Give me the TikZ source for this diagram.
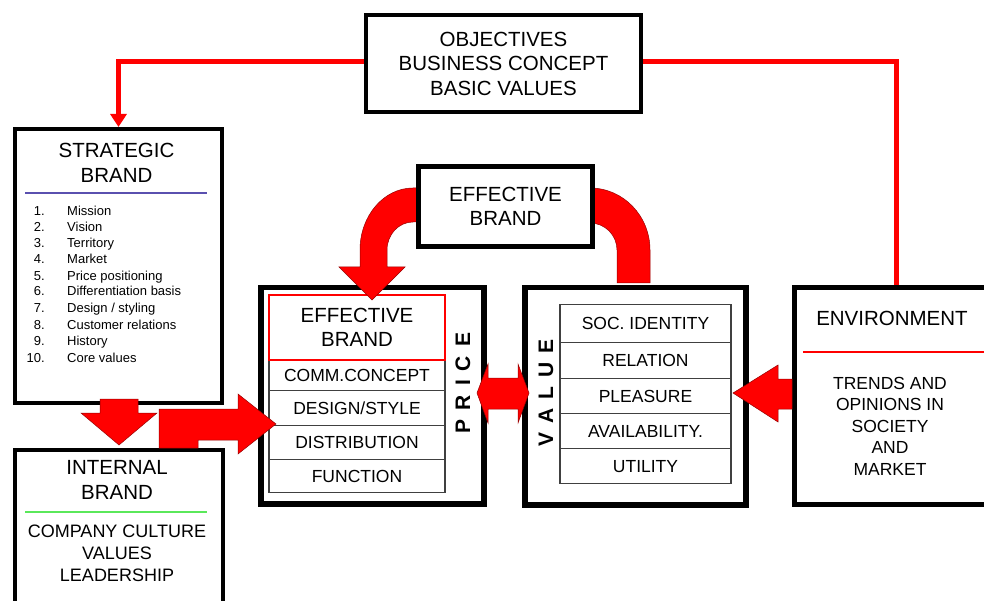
\documentclass[tikz,border=0pt]{standalone}
\usepackage{fontspec}
\setmainfont{Liberation Sans}
\usetikzlibrary{arrows.meta}
\begin{document}
\begin{tikzpicture}[x=1pt,y=-1pt,
  box/.style={draw=black, line width=4pt, fill=white, inner sep=0pt, anchor=north west},
  ttl/.style={font=\fontsize{20.5}{24.5}\selectfont, align=center, inner sep=0pt},
  rowtxt/.style={font=\fontsize{17.5}{21}\selectfont},
  cell/.style={draw=black!75, line width=1.2pt, fill=white, inner sep=0pt, anchor=north, rowtxt},
  listtxt/.style={font=\fontsize{13}{15}\selectfont, inner sep=0pt},
  vert/.style={rotate=90, font=\bfseries\fontsize{21}{21}\selectfont, inner sep=0pt},
  fat/.style={fill=red, draw={rgb,255:red,150;green,0;blue,0}, line width=0.5pt},
  redline/.style={draw=red, line width=5pt},
]
\useasboundingbox (0,0) rectangle (984,601);

% --- boxes ---
\node[box, minimum width=207, minimum height=274] (strat) at (13,127) {};
\node[box, minimum width=208, minimum height=170] (intl) at (13,448) {};
\node[box, line width=5.5pt, minimum width=223, minimum height=216] (price) at (258,285) {};
\node[box, line width=5.5pt, minimum width=221, minimum height=217] (value) at (522,285) {};
\node[box, line width=5pt, minimum width=203, minimum height=217] (env) at (792,285) {};

% --- top feedback lines ---
\coordinate (objW) at (364,62);
\coordinate (objE) at (639,62);
\draw[redline, -{Triangle[width=16pt,length=13pt]}] (objW) -| (strat.north);
\draw[redline] (objE) -| (env.north);
\node[box, minimum width=275, minimum height=97, ttl] (obj) at (364,13) {OBJECTIVES\\BUSINESS CONCEPT\\BASIC VALUES};

% --- strategic brand ---
\node[ttl] (stratt) at (116.5,163) {STRATEGIC\\BRAND};
\draw[draw={rgb,255:red,90;green,80;blue,175}, line width=2pt] (25,193) -- (207,193);
\foreach \nn/\tt/\yy [count=\i] in {{1.}/{Mission}/211, {2.}/{Vision}/227, {3.}/{Territory}/243, {4.}/{Market}/259, {5.}/{Price positioning}/276, {6.}/{Differentiation basis}/291, {7.}/{Design / styling}/308, {8.}/{Customer relations}/325, {9.}/{History}/341, {10.}/{Core values}/358} {
  \node[listtxt, anchor=base east] (ln\i) at (45,\yy+4.7) {\nn};
  \node[listtxt, anchor=base west] (lt\i) at (67,\yy+4.7) {\tt};
}

% --- internal brand ---
\node[ttl] (intlt) at (117,480) {INTERNAL\\BRAND};
\draw[draw={rgb,255:red,90;green,232;blue,90}, line width=2pt] (25,512) -- (207,512);
\node[font=\fontsize{18}{22}\selectfont, align=center, inner sep=0pt] (intlb) at (117,553) {COMPANY CULTURE\\VALUES\\LEADERSHIP};

% --- price table ---
\node[cell, minimum width=176, minimum height=31] (pc1) at (357,359) {COMM.CONCEPT};
\node[cell, minimum width=176, minimum height=35] (pc2) at (357,390) {DESIGN/STYLE};
\node[cell, minimum width=176, minimum height=34] (pc3) at (357,425) {DISTRIBUTION};
\node[cell, minimum width=176, minimum height=33] (pc4) at (357,459) {FUNCTION};
\node[draw=red, line width=2pt, fill=white, minimum width=176, minimum height=65, anchor=north, ttl] (peff) at (357,294) {EFFECTIVE\\BRAND};
\node[vert] (pricet) at (463,383) {P\kern9pt R\kern9pt I\kern9pt C\kern9pt E};

% --- value table ---
\node[cell, minimum width=171, minimum height=38] (vc1) at (645.5,304) {SOC. IDENTITY};
\node[cell, minimum width=171, minimum height=36] (vc2) at (645.5,342) {RELATION};
\node[cell, minimum width=171, minimum height=35] (vc3) at (645.5,378) {PLEASURE};
\node[cell, minimum width=171, minimum height=35] (vc4) at (645.5,413) {AVAILABILITY.};
\node[cell, minimum width=171, minimum height=35] (vc5) at (645.5,448) {UTILITY};
\node[vert] (valuet) at (546,393) {V\kern9pt A\kern9pt L\kern9pt U\kern9pt E};

% --- environment ---
\node[ttl] (envt) at (892,318) {ENVIRONMENT};
\draw[draw=red, line width=1.5pt] (803,352) -- (984,352);
\node[font=\fontsize{17.5}{21.5}\selectfont, align=center, inner sep=0pt] (envb) at (890,426) {TRENDS AND\\OPINIONS IN\\SOCIETY\\AND\\MARKET};

% --- fat arrows ---
% strategic -> internal
\draw[fat] (100,399) -- (138,399) -- (138,413) -- (157,413) -- (119,445) -- (81,413) -- (100,413) -- cycle;
% internal -> distribution
\draw[fat] (159,448) -- (159,409) -- (238,409) -- (238,394) -- (276,424) -- (238,454) -- (238,440) -- (198,440) -- (198,448) -- cycle;
% price <-> value
\draw[fat] (477,393) -- (488,364) -- (488,378) -- (518,378) -- (518,364) -- (529,393) -- (518,423) -- (518,409) -- (488,409) -- (488,423) -- cycle;
% environment -> pleasure
\draw[fat] (733,393) -- (778,365) -- (778,379) -- (792,379) -- (792,409) -- (778,409) -- (778,422) -- cycle;
% effective brand -> effective brand (left curved)
\draw[fat] (425,188) -- (413,188) arc[start angle=270, end angle=180, x radius=53, y radius=62]
  -- (360,267) -- (339,267) -- (372,300) -- (405,267) -- (387,267) -- (387,250)
  arc[start angle=180, end angle=270, x radius=26, y radius=28] -- (425,222) -- cycle;
% effective brand -> value (right curved)
\draw[fat] (580,188) -- (590,188) arc[start angle=270, end angle=360, x radius=60, y radius=62]
  -- (650,283) -- (617,283) -- (617,250)
  arc[start angle=360, end angle=270, x radius=27, y radius=27] -- (580,223) -- cycle;

\node[box, line width=5pt, minimum width=174, minimum height=80, ttl] (eff) at (416,164) {EFFECTIVE\\BRAND};
\end{tikzpicture}
\end{document}
